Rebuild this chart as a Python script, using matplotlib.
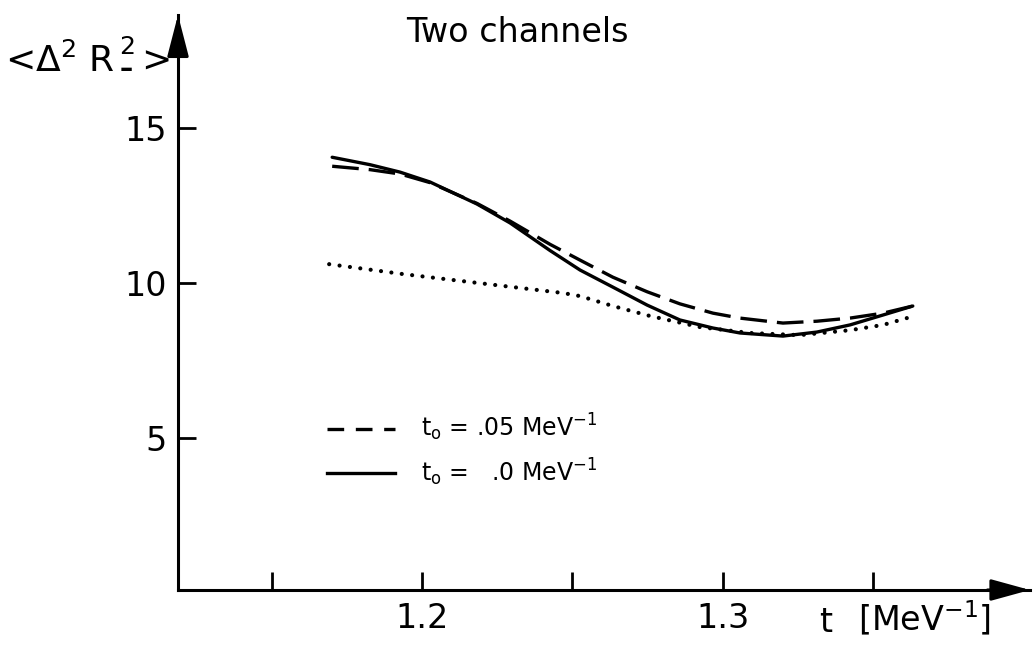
import matplotlib
matplotlib.use("Agg")
import matplotlib.pyplot as plt
from matplotlib.lines import Line2D

# ---- data ----
t_main = [1.1701, 1.1827, 1.1927, 1.2027, 1.2183, 1.2293, 1.2426, 1.2526, 1.2635,
          1.2749, 1.2858, 1.2968, 1.3058, 1.3201, 1.3314, 1.3424, 1.3534, 1.3633]
r_solid = [14.06, 13.82, 13.58, 13.26, 12.55, 11.94, 11.05, 10.42, 9.87,
           9.29, 8.81, 8.55, 8.39, 8.29, 8.42, 8.65, 8.97, 9.26]
r_dashed = [13.77, 13.66, 13.52, 13.24, 12.57, 12.00, 11.25, 10.74, 10.19,
            9.72, 9.33, 9.03, 8.87, 8.71, 8.77, 8.87, 9.03, 9.26]
t_dot = [1.1691, 1.1937, 1.2216, 1.2469, 1.2526, 1.2635, 1.2758, 1.2925, 1.3091,
         1.3257, 1.3424, 1.3534, 1.3613]
r_dot = [10.61, 10.29, 9.97, 9.68, 9.58, 9.26, 8.94, 8.58, 8.39, 8.32, 8.48, 8.65, 8.87]

yticks = [5, 10, 15]
xticks_major = [1.2, 1.3]
xticks_minor = [1.15, 1.25, 1.35]
xtick_labels = ["1.2", "1.3"]
legend_labels = [r"t$_\mathrm{o}$ = .05 MeV$^{-1}$", r"t$_\mathrm{o}$ =   .0 MeV$^{-1}$"]

W, H = 1036, 651
fig = plt.figure(figsize=(W / 100, H / 100), dpi=100)
ax = fig.add_axes([178 / W, 61 / H, 852 / W, 575 / H])
ax.set_xlim(1.1188, 1.4023)
ax.set_ylim(0.097, 18.65)

lw = 2.4
ax.plot(t_main, r_solid, color="black", lw=lw, solid_capstyle="round", solid_joinstyle="round")
ax.plot(t_main, r_dashed, color="black", lw=lw, linestyle=(0, (8, 3)), dash_capstyle="butt")
ax.plot(t_dot, r_dot, color="black", lw=3.0, linestyle=(0, (0.01, 2.5)), dash_capstyle="round")

for s in ["top", "right"]:
    ax.spines[s].set_visible(False)
for s in ["left", "bottom"]:
    ax.spines[s].set_linewidth(2.2)

ax.set_yticks(yticks)
ax.set_yticklabels([str(v) for v in yticks])
ax.set_xticks(xticks_major)
ax.set_xticklabels(xtick_labels)
ax.set_xticks(xticks_minor, minor=True)
ax.tick_params(axis="both", which="both", direction="in", width=2.0, length=13, labelsize=24)
ax.tick_params(axis="y", pad=8)
ax.tick_params(axis="x", pad=9)

# arrowheads
ax.annotate("", xy=(1.0, 0.0), xytext=(0.95, 0.0), xycoords="axes fraction",
            arrowprops=dict(arrowstyle="-|>,head_length=0.8,head_width=0.22", lw=2.2,
                            color="black", mutation_scale=30, shrinkA=0, shrinkB=0),
            annotation_clip=False)
ax.annotate("", xy=(0.0, 1.0), xytext=(0.0, 0.93), xycoords="axes fraction",
            arrowprops=dict(arrowstyle="-|>,head_length=0.85,head_width=0.22", lw=2.2,
                            color="black", mutation_scale=30, shrinkA=0, shrinkB=0),
            annotation_clip=False)

# legend with proxy handles
handles = [Line2D([], [], color="black", lw=lw, linestyle=(0, (5, 3.5))),
           Line2D([], [], color="black", lw=lw)]
leg = ax.legend(handles, legend_labels, loc="upper left",
                bbox_to_anchor=(327 / W, 1 - 412 / H), bbox_transform=fig.transFigure,
                frameon=False, fontsize=17, handlelength=2.9, handletextpad=1.1,
                labelspacing=0.55, borderpad=0, borderaxespad=0)

fig.text(517 / W, 1 - 32 / H, "Two channels", ha="center", va="center", fontsize=24)

# y-axis label  <Δ² R²₋>  built from pieces
fig.text(5 / W, 1 - 72 / H, "<\u0394$^2$ R", ha="left", va="baseline", fontsize=26)
fig.text(119 / W, 1 - 54 / H, "2", ha="left", va="baseline", fontsize=18)
fig.text(126 / W, 1 - 70 / H, "\u2013", ha="center", va="center", fontsize=19, fontweight="bold")
fig.text(141 / W, 1 - 72 / H, ">", ha="left", va="baseline", fontsize=26)

fig.text(826 / W, 1 - 622 / H, "t", ha="center", va="center", fontsize=24)
fig.text(925 / W, 1 - 618 / H, r"$\left[\mathrm{MeV}^{-1}\right]$", ha="center", va="center", fontsize=24)

fig.savefig("out.png", dpi=100)
